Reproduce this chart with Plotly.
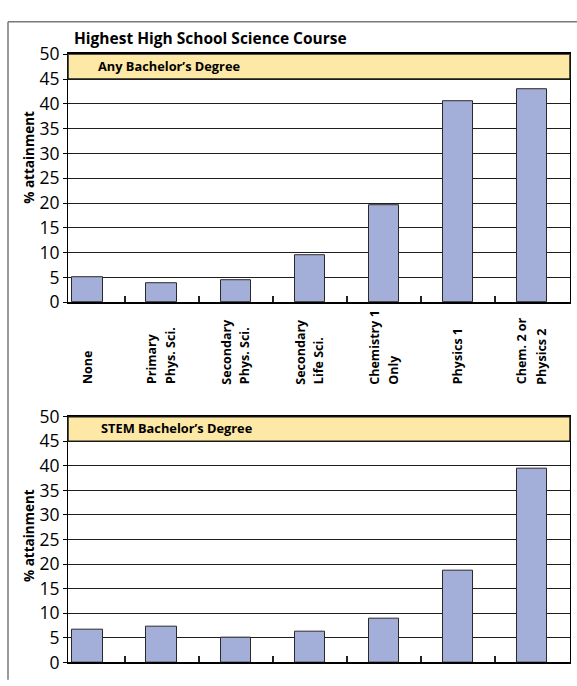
import plotly.graph_objects as go

# Data
courses = ["None", "Primary<br>Phys. Sci.", "Secondary<br>Phys. Sci.", "Secondary<br>Life Sci.",
           "Chemistry 1<br>Only", "Physics 1", "Chem. 2 or<br>Physics 2"]
any_bachelor = [5.1, 3.9, 4.4, 9.4, 19.6, 40.5, 42.9]
stem_bachelor = [6.6, 7.3, 5.0, 6.2, 8.9, 18.7, 39.5]
panel_titles = ["Any Bachelor’s Degree", "STEM Bachelor’s Degree"]
y_ticks = [0, 5, 10, 15, 20, 25, 30, 35, 40, 45, 50]
chart_title = "Highest High School Science Course"
y_title = "% attainment"

W, H = 577, 686
FONT = "Open Sans"
BAR_FILL = "#A3AED9"
BANNER_FILL = "#FDE8A6"


def px_x(p):
    return p / W


def px_y(p):
    return 1 - p / H


x_dom = [px_x(68), px_x(570)]
top_dom = [px_y(299.7), px_y(42.7)]
bot_dom = [px_y(673.0), px_y(418.3)]
x_range = [-0.265, 6.516]
idx = list(range(len(courses)))

fig = go.Figure()
fig.add_trace(go.Bar(x=idx, y=any_bachelor, xaxis="x", yaxis="y", width=0.41,
                     marker=dict(color=BAR_FILL, line=dict(color="#2a2a2a", width=1))))
fig.add_trace(go.Bar(x=idx, y=stem_bachelor, xaxis="x2", yaxis="y2", width=0.41,
                     marker=dict(color=BAR_FILL, line=dict(color="#2a2a2a", width=1))))

xaxis_common = dict(
    range=x_range, showgrid=False, zeroline=False, showline=True, linecolor="black", linewidth=2,
    mirror=True, tickmode="array", tickvals=[i + 0.5 for i in idx[:-1]],
    ticktext=[""] * (len(idx) - 1), ticks="inside", ticklen=6, tickwidth=1.5, tickcolor="#222",
    showticklabels=False, fixedrange=True,
)
yaxis_common = dict(
    range=[0, 50], tickmode="array", tickvals=y_ticks, ticks="outside", ticklen=4,
    tickcolor="black", tickwidth=1, showgrid=True, gridcolor="#1e1e1e", gridwidth=1,
    zeroline=False, showline=True, linecolor="black", linewidth=1, mirror=True,
    tickfont=dict(family=FONT, size=17.5, color="black"), fixedrange=True,
)

fig.update_layout(
    width=W, height=H, margin=dict(l=0, r=0, t=0, b=0),
    paper_bgcolor="white", plot_bgcolor="white", showlegend=False, bargap=0,
    xaxis=dict(domain=x_dom, anchor="y", **xaxis_common),
    xaxis2=dict(domain=x_dom, anchor="y2", **xaxis_common),
    yaxis=dict(domain=top_dom, anchor="x", **yaxis_common),
    yaxis2=dict(domain=bot_dom, anchor="x2", **yaxis_common),
)

shapes = []
annotations = []

# Banner strip across the top of each panel
for xr, yr, label, tx in [("x domain", "y", panel_titles[0], 95.5), ("x2 domain", "y2", panel_titles[1], 99)]:
    shapes.append(dict(type="rect", xref=xr, yref=yr, x0=0, x1=1, y0=45, y1=50,
                       fillcolor=BANNER_FILL, line=dict(color="#1a1a1a", width=1.5), layer="above"))
    annotations.append(dict(text=f"<b>{label}</b>", xref="paper", yref=yr, x=px_x(tx), y=47.6,
                            xanchor="left", yanchor="middle", showarrow=False,
                            font=dict(family=FONT, size=12.8, color="black")))

# Outer frame
shapes.append(dict(type="line", xref="paper", yref="paper", x0=px_x(8), x1=px_x(8),
                   y0=px_y(9), y1=px_y(H + 5), line=dict(color="#7a7a7a", width=1.5)))
shapes.append(dict(type="line", xref="paper", yref="paper", x0=px_x(8), x1=px_x(W + 5),
                   y0=px_y(9), y1=px_y(9), line=dict(color="#7a7a7a", width=1.5)))

# Chart title
annotations.append(dict(text=f"<b>{chart_title}</b>", xref="paper", yref="paper",
                        x=px_x(72), y=px_y(26), xanchor="left", yanchor="middle", showarrow=False,
                        font=dict(family=FONT, size=15.5, color="black")))

# Y-axis titles
for cy in (150, 542):
    annotations.append(dict(text=f"<b>{y_title}</b>", xref="paper", yref="paper",
                            x=px_x(29), y=px_y(cy), xanchor="center", yanchor="middle",
                            textangle=-90, showarrow=False,
                            font=dict(family=FONT, size=13.5, color="black")))

# Category labels, rotated, under the top panel; one annotation per text line
LINE_PITCH = 19
for i, name in zip(idx, courses):
    lines = name.split("<br>")
    n = len(lines)
    for k, line in enumerate(lines):
        shift = (k - (n - 1) / 2) * LINE_PITCH
        annotations.append(dict(text=f"<b>{line}</b>", xref="x", yref="paper", x=i, y=px_y(387),
                                xanchor="center", yanchor="bottom", textangle=-90, xshift=shift,
                                showarrow=False, font=dict(family=FONT, size=12.5, color="black")))

fig.update_layout(shapes=shapes, annotations=annotations)
fig.write_html("out.html")
